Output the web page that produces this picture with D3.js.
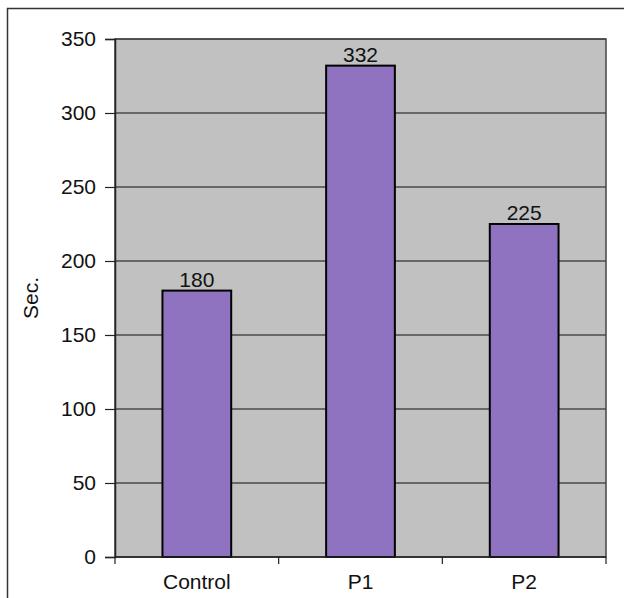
<!DOCTYPE html>
<html>
<head>
<meta charset="utf-8">
<script src="https://cdn.jsdelivr.net/npm/d3@7"></script>
<style>
  html, body { margin: 0; padding: 0; background: #fff; }
  svg { display: block; }
  text { font-family: "Liberation Sans", Arial, sans-serif; fill: #111; }
</style>
</head>
<body>
<svg id="chart" width="625" height="598"></svg>
<script>
// Chart data
const categories = ["Control", "P1", "P2"];
const values = [180, 332, 225];
const yTicks = [0, 50, 100, 150, 200, 250, 300, 350];
const yLabel = "Sec.";

const W = 625, H = 598;
const margin = { left: 115, top: 39, right: 19, bottom: 41 };
const plotW = W - margin.left - margin.right;
const plotH = H - margin.top - margin.bottom;
const FS = 21;

const svg = d3.select("#chart");

// outer frame
svg.append("path")
  .attr("d", `M7.5,${H} V8.5 H624`)
  .attr("fill", "none").attr("stroke", "#333").attr("stroke-width", 1.5);

const g = svg.append("g").attr("transform", `translate(${margin.left},${margin.top})`);

const x = d3.scaleBand().domain(categories).range([0, plotW]).paddingInner(0.58).paddingOuter(0.29);
const xOuter = d3.scaleBand().domain(categories).range([0, plotW]);
const y = d3.scaleLinear().domain([0, 350]).range([plotH, 0]);

// plot background
g.append("rect").attr("width", plotW).attr("height", plotH).attr("fill", "#c1c1c1");

// horizontal gridlines
g.selectAll(".grid").data(yTicks.filter(d => d > 0)).join("line")
  .attr("x1", 0).attr("x2", plotW)
  .attr("y1", d => y(d)).attr("y2", d => y(d))
  .attr("stroke", "#111").attr("stroke-width", 1.2);

// plot border
g.append("rect").attr("width", plotW).attr("height", plotH)
  .attr("fill", "none").attr("stroke", "#444").attr("stroke-width", 1.5);

// bars
g.selectAll(".bar").data(values).join("rect")
  .attr("x", (d, i) => x(categories[i]))
  .attr("width", x.bandwidth())
  .attr("y", d => y(d))
  .attr("height", d => plotH - y(d))
  .attr("fill", "#8f72c0")
  .attr("stroke", "#000").attr("stroke-width", 2);

// value labels
g.selectAll(".val").data(values).join("text")
  .attr("x", (d, i) => x(categories[i]) + x.bandwidth() / 2)
  .attr("y", d => y(d) - 4)
  .attr("text-anchor", "middle")
  .attr("font-size", FS)
  .text(d => d);

// y axis
const yAxis = g.append("g").call(d3.axisLeft(y).tickValues(yTicks).tickSize(10).tickPadding(9));
yAxis.select(".domain").attr("stroke", "#222").attr("stroke-width", 1.5);
yAxis.selectAll(".tick line").attr("stroke", "#222").attr("stroke-width", 1.2);
yAxis.selectAll(".tick text").attr("font-size", FS).attr("fill", "#111")
  .attr("font-family", "Liberation Sans, Arial, sans-serif");

// x axis: ticks at category boundaries
const xAxisG = g.append("g").attr("transform", `translate(0,${plotH})`);
xAxisG.append("line").attr("x1", 0).attr("x2", plotW).attr("stroke", "#222").attr("stroke-width", 1.5);
const bounds = categories.map(c => xOuter(c)).concat([plotW]);
xAxisG.selectAll(".xt").data(bounds).join("line")
  .attr("x1", d => d).attr("x2", d => d).attr("y1", 0).attr("y2", 7)
  .attr("stroke", "#222").attr("stroke-width", 1.2);
xAxisG.selectAll(".xl").data(categories).join("text")
  .attr("x", d => xOuter(d) + xOuter.bandwidth() / 2)
  .attr("y", 32)
  .attr("text-anchor", "middle")
  .attr("font-size", FS)
  .text(d => d);

// y axis title
svg.append("text")
  .attr("transform", `translate(38,${margin.top + plotH / 2}) rotate(-90)`)
  .attr("text-anchor", "middle")
  .attr("font-size", FS)
  .text(yLabel);
</script>
</body>
</html>
